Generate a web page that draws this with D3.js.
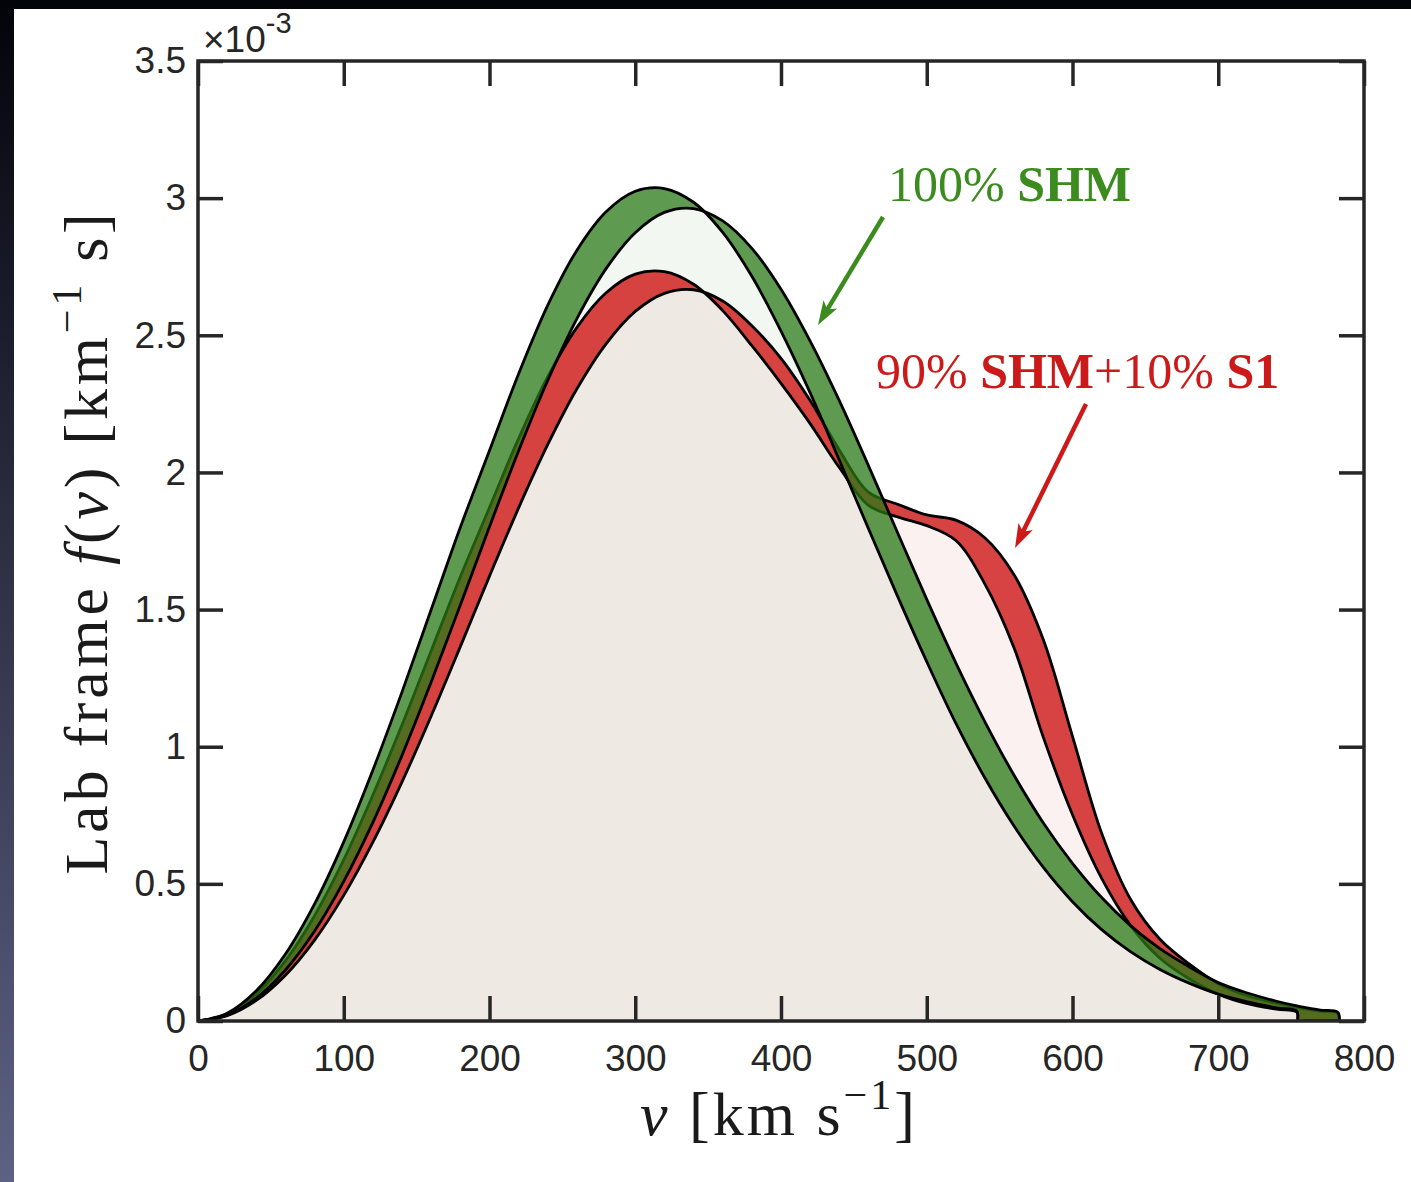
<!DOCTYPE html>
<html><head><meta charset="utf-8">
<script src="https://cdn.jsdelivr.net/npm/d3@7"></script>
<style>html,body{margin:0;padding:0;background:#fff;} svg{display:block}</style>
</head><body>
<svg id="chart" width="1411" height="1182"></svg>
<script>
// Lab-frame speed distributions, f(v) in units of 1e-3 (km^-1 s)
const speeds = [0,20,40,60,80,100,120,140,160,180,200,220,240,260,280,300,320,340,360,380,400,420,440,460,480,500,520,540,560,580,600,620,640,660,680,700,720,740,754,755,760,770,782,783];
// 100% SHM, two edges of the band
const shmA = [0,0.028,0.110,0.244,0.427,0.653,0.915,1.200,1.500,1.800,2.080,2.360,2.610,2.810,2.950,3.025,3.035,2.985,2.875,2.715,2.515,2.290,2.045,1.795,1.548,1.310,1.085,0.885,0.710,0.560,0.435,0.333,0.252,0.188,0.138,0.098,0.070,0.048,0.036,0,0,0,0,0];
const shmB = [0,0.021,0.083,0.186,0.328,0.509,0.724,0.969,1.236,1.517,1.802,2.079,2.336,2.561,2.743,2.874,2.948,2.962,2.917,2.817,2.668,2.479,2.262,2.025,1.780,1.537,1.305,1.090,0.895,0.722,0.575,0.450,0.347,0.264,0.198,0.140,0.102,0.072,0.055,0.054,0.049,0.040,0.032,0];
// 90% SHM + 10% S1, two edges of the band
const mixA = [0,0.025,0.099,0.220,0.384,0.588,0.824,1.080,1.350,1.620,1.872,2.124,2.349,2.529,2.655,2.723,2.732,2.686,2.590,2.462,2.325,2.178,2.018,1.880,1.838,1.806,1.752,1.592,1.359,1.034,0.752,0.520,0.347,0.229,0.154,0.098,0.063,0.043,0.032,0,0,0,0,0];
const mixB = [0,0.019,0.075,0.167,0.295,0.458,0.652,0.872,1.112,1.365,1.622,1.871,2.102,2.305,2.469,2.587,2.653,2.666,2.625,2.535,2.416,2.262,2.082,1.928,1.884,1.845,1.826,1.761,1.626,1.390,1.038,0.685,0.442,0.298,0.208,0.136,0.092,0.065,0.050,0.049,0.044,0.036,0.029,0];
const xTicks = [0,100,200,300,400,500,600,700,800];
const yTicks = [0,0.5,1,1.5,2,2.5,3,3.5];
const yTickLabels = ["0","0.5","1","1.5","2","2.5","3","3.5"];

const W = 1411, H = 1182;
const svg = d3.select('#chart');
const defs = svg.append('defs');
const grad = defs.append('linearGradient').attr('id','bg').attr('x1',0).attr('y1',0).attr('x2',0).attr('y2',1);
grad.append('stop').attr('offset','0%').attr('stop-color','#03030a');
grad.append('stop').attr('offset','100%').attr('stop-color','#5d6184');
svg.append('rect').attr('width',W).attr('height',H).attr('fill','url(#bg)');
svg.append('rect').attr('x',14).attr('y',9).attr('width',W-14).attr('height',H-9).attr('fill','#fff');

const L = 198, R = 1364, T = 61, B = 1021;
const x = d3.scaleLinear().domain([0,800]).range([L,R]);
const y = d3.scaleLinear().domain([0,3.5]).range([B,T]);

defs.append('clipPath').attr('id','plotclip').append('rect')
  .attr('x',L).attr('y',T).attr('width',R-L).attr('height',B-T);

const rows = speeds.map((v,i)=>({v, ga:shmA[i], gb:shmB[i], ra:mixA[i], rb:mixB[i]}));
const curve = d3.curveCatmullRom.alpha(0.5);
const plot = svg.append('g').attr('clip-path','url(#plotclip)');

const GREEN = 'rgb(40,120,20)', RED = 'rgb(205,20,20)';

// light fills under the lower envelope of each band
plot.append('path').datum(rows)
  .attr('d', d3.area().curve(curve).x(d=>x(d.v)).y0(y(0)).y1(d=>y(Math.min(d.ra,d.rb))))
  .attr('fill', RED).attr('fill-opacity', 0.06);
plot.append('path').datum(rows)
  .attr('d', d3.area().curve(curve).x(d=>x(d.v)).y0(y(0)).y1(d=>y(Math.min(d.ga,d.gb))))
  .attr('fill', GREEN).attr('fill-opacity', 0.06);

// red band
plot.append('path').datum(rows)
  .attr('d', d3.area().curve(curve).x(d=>x(d.v)).y0(d=>y(d.ra)).y1(d=>y(d.rb)))
  .attr('fill', RED).attr('fill-opacity', 0.8);
['ra','rb'].forEach(k=>{
  plot.append('path').datum(rows)
    .attr('d', d3.line().curve(curve).x(d=>x(d.v)).y(d=>y(d[k])))
    .attr('fill','none').attr('stroke','#000').attr('stroke-width',2.8);
});
// green band
plot.append('path').datum(rows)
  .attr('d', d3.area().curve(curve).x(d=>x(d.v)).y0(d=>y(d.ga)).y1(d=>y(d.gb)))
  .attr('fill', GREEN).attr('fill-opacity', 0.75);
['ga','gb'].forEach(k=>{
  plot.append('path').datum(rows)
    .attr('d', d3.line().curve(curve).x(d=>x(d.v)).y(d=>y(d[k])))
    .attr('fill','none').attr('stroke','#000').attr('stroke-width',2.8);
});

// axes
const AX = '#262626';
const tickFont = '"Liberation Sans", Arial, Helvetica, sans-serif';
function styleAxis(g){
  g.select('.domain').remove();
  g.selectAll('.tick line').attr('stroke',AX).attr('stroke-width',3.5);
  g.selectAll('.tick text').attr('fill',AX).style('font-family',tickFont).style('font-size','37px');
}
svg.append('g').attr('transform',`translate(0,${B})`)
  .call(d3.axisBottom(x).tickValues(xTicks).tickSize(-25).tickPadding(24).tickFormat(d3.format('d')))
  .call(styleAxis);
svg.append('g').attr('transform',`translate(0,${T})`)
  .call(d3.axisTop(x).tickValues(xTicks).tickSize(-25).tickFormat(''))
  .call(styleAxis);
svg.append('g').attr('transform',`translate(${L},0)`)
  .call(d3.axisLeft(y).tickValues(yTicks).tickSize(-25).tickPadding(12).tickFormat((d,i)=>yTickLabels[i]))
  .call(styleAxis);
svg.append('g').attr('transform',`translate(${R},0)`)
  .call(d3.axisRight(y).tickValues(yTicks).tickSize(-25).tickFormat(''))
  .call(styleAxis);
svg.append('rect').attr('x',L).attr('y',T).attr('width',R-L).attr('height',B-T)
  .attr('fill','none').attr('stroke',AX).attr('stroke-width',3.5);

// exponent
const ex = svg.append('text').attr('x',203).attr('y',52).attr('fill',AX).style('font-family',tickFont);
ex.append('tspan').style('font-size','37px').text('\u00d710');
ex.append('tspan').style('font-size','29px').attr('dy',-19).text('-3');

// axis labels
const serif = '"Liberation Serif", "Times New Roman", serif';
function fit(textSel, target){
  const node = textSel.node();
  const len = node.getComputedTextLength();
  const n = node.textContent.length;
  textSel.attr('letter-spacing', ((target-len)/n).toFixed(2));
}
const yl = svg.append('text').attr('transform','translate(107,542) rotate(-90)')
  .attr('text-anchor','middle').attr('fill','#1a1a1a')
  .style('font-family',serif).style('font-size','62px').style('white-space','pre');
yl.append('tspan').text('Lab frame ');
yl.append('tspan').style('font-style','italic').text('f');
yl.append('tspan').text('(');
yl.append('tspan').style('font-style','italic').text('v');
yl.append('tspan').text(') [km');
yl.append('tspan').style('font-size','42px').attr('dy',-26).text('\u22121');
yl.append('tspan').attr('dy',26).text(' s]');
fit(yl, 665);

const xl = svg.append('text').attr('x',779).attr('y',1135)
  .attr('text-anchor','middle').attr('fill','#1a1a1a')
  .style('font-family',serif).style('font-size','62px').style('white-space','pre');
xl.append('tspan').style('font-style','italic').text('v');
xl.append('tspan').text(' [km s');
xl.append('tspan').style('font-size','42px').attr('dy',-26).text('\u22121');
xl.append('tspan').attr('dy',26).text(']');
fit(xl, 278);

// annotations
const GT = '#3b8b1e', RT = '#cc1a1a';
const t1 = svg.append('text').attr('x',888).attr('y',201).attr('fill',GT)
  .style('font-family',serif).style('font-size','50px').style('white-space','pre');
t1.append('tspan').text('100% ');
t1.append('tspan').style('font-weight','bold').text('SHM');
const t2 = svg.append('text').attr('x',876).attr('y',388).attr('fill',RT)
  .style('font-family',serif).style('font-size','50px').style('white-space','pre');
t2.append('tspan').text('90% ');
t2.append('tspan').style('font-weight','bold').text('SHM');
t2.append('tspan').text('+10% ');
t2.append('tspan').style('font-weight','bold').text('S1');

function arrow(x1,y1,x2,y2,color){
  const dx=x2-x1, dy=y2-y1, len=Math.hypot(dx,dy);
  const ux=dx/len, uy=dy/len, nx=-uy, ny=ux;
  const hl=24, hw=8, notch=6;
  const bx=x2-ux*(hl-notch), by=y2-uy*(hl-notch);
  svg.append('line').attr('x1',x1).attr('y1',y1).attr('x2',bx).attr('y2',by)
    .attr('stroke',color).attr('stroke-width',4.5);
  const pts=[[x2,y2],[x2-ux*hl+nx*hw,y2-uy*hl+ny*hw],[bx,by],[x2-ux*hl-nx*hw,y2-uy*hl-ny*hw]];
  svg.append('polygon').attr('points',pts.map(p=>p.join(',')).join(' ')).attr('fill',color);
}
arrow(883,217,818,325,GT);
arrow(1086,404,1015,548,RT);
</script>
</body></html>
